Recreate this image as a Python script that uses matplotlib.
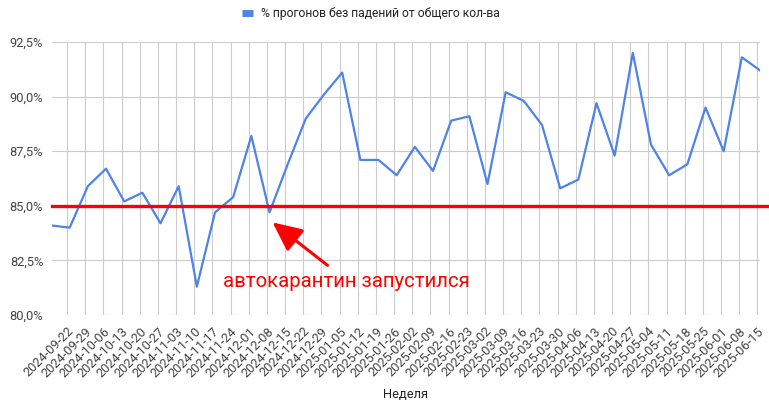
import pandas as pd
import matplotlib.pyplot as plt
import matplotlib.dates as mdates
import matplotlib.transforms as mtransforms
from matplotlib.ticker import FuncFormatter

plt.rcParams['font.family'] = ['Roboto', 'DejaVu Sans']

# недели (понедельники) и значения
weeks = pd.date_range('2024-09-16', periods=40, freq='7D')
values = [84.1, 84.0, 85.9, 86.7, 85.2, 85.6, 84.2, 85.9, 81.3, 84.7,
          85.4, 88.2, 84.7, 86.9, 89.0, 90.1, 91.1, 87.1, 87.1, 86.4,
          87.7, 86.6, 88.9, 89.1, 86.0, 90.2, 89.8, 88.7, 85.8, 86.2,
          89.7, 87.3, 92.0, 87.8, 86.4, 86.9, 89.5, 87.5, 91.8, 91.2]

tick_labels = ['2024-09-22', '2024-09-29', '2024-10-06', '2024-10-13', '2024-10-20',
               '2024-10-27', '2024-11-03', '2024-11-10', '2024-11-17', '2024-11-24',
               '2024-12-01', '2024-12-08', '2024-12-15', '2024-12-22', '2024-12-29',
               '2025-01-05', '2025-01-12', '2025-01-19', '2025-01-26', '2025-02-02',
               '2025-02-09', '2025-02-16', '2025-02-23', '2025-03-02', '2025-03-09',
               '2025-03-16', '2025-03-23', '2025-03-30', '2025-04-06', '2025-04-13',
               '2025-04-20', '2025-04-27', '2025-05-04', '2025-05-11', '2025-05-18',
               '2025-05-25', '2025-06-01', '2025-06-08', '2025-06-15']
threshold = 85.0
series_name = '% прогонов без падений от общего кол-ва'
note = 'автокарантин запустился'

fig = plt.figure(figsize=(7.69, 4.09), dpi=100)
ax = fig.add_axes([0.067, 0.2298, 0.9213, 0.6675])

line, = ax.plot(weeks, values, color='#5083e6', lw=1.6, label=series_name, zorder=3)
ax.axhline(threshold, xmin=0, xmax=1.013, color='#ff0000', lw=2.4, clip_on=False, zorder=4)

ax.set_xlim(weeks[0], weeks[-1])
ax.set_ylim(80, 92.5)
ax.set_yticks([80, 82.5, 85, 87.5, 90, 92.5])
ax.yaxis.set_major_formatter(FuncFormatter(lambda v, p: f'{v:.1f}%'.replace('.', ',')))
ticks = pd.to_datetime(tick_labels)
ax.set_xticks(ticks)
ax.set_xticklabels(tick_labels, rotation=45, ha='right', rotation_mode='anchor')

ax.grid(True, color='#cccccc', lw=0.8)
ax.set_axisbelow(True)
for s in ax.spines.values():
    s.set_visible(False)
ax.tick_params(length=0, labelsize=9.3, colors='#444444')
ax.tick_params(axis='x', pad=7)
ax.tick_params(axis='y', pad=6)
ax.set_xlabel('Неделя', fontsize=9.3, color='#222222', labelpad=6)

# стрелка к точке запуска автокарантина
drop = (mdates.date2num(weeks[12]), values[12])
tip = mtransforms.offset_copy(ax.transData, fig=fig, x=3, y=-10, units='dots')
ax.annotate('', xy=drop, xycoords=tip,
            xytext=(55, -43), textcoords='offset pixels',
            arrowprops=dict(arrowstyle='-|>,head_length=0.9,head_width=0.42',
                            mutation_scale=20, color='#ff0000', lw=2.2,
                            shrinkA=0, shrinkB=0))
ax.annotate(note, xy=drop, xycoords='data',
            xytext=(77, -69), textcoords='offset pixels',
            ha='center', va='center', fontsize=14.7, color='#ff0000')

fig.legend(handles=[line], loc='center', bbox_to_anchor=(371 / 769, 1 - 14 / 409),
           frameon=False, fontsize=8.7, handlelength=0.95, handletextpad=0.65,
           labelcolor='#222222')
for h in fig.legends[0].legend_handles:
    h.set_linewidth(5)
    h.set_solid_capstyle('butt')

fig.savefig('out.png', dpi=100)
